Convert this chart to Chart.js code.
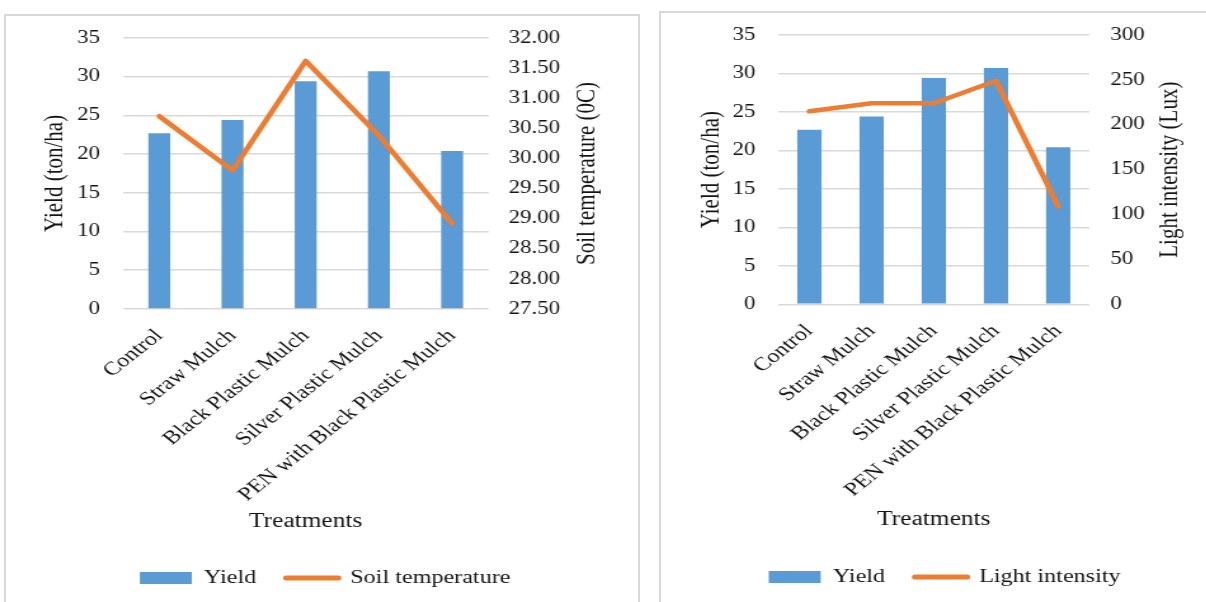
<!DOCTYPE html>
<html>
<head>
<meta charset="utf-8">
<script src="https://cdn.jsdelivr.net/npm/chart.js@4.4.1/dist/chart.umd.min.js"></script>
<style>
  html, body { margin: 0; padding: 0; background: #fff; overflow: hidden; }
  body { width: 1206px; height: 602px; position: relative; }
  canvas { position: absolute; top: 0; transform-origin: 0 0; }
  #soilChart { left: 0; }
  #lightChart { left: 650px; }
  .box { position: absolute; border: 2px solid #d9d9d9; pointer-events: none; }
  #box1 { left: 4px; top: 14px; width: 632px; height: 600px; }
  #box2 { left: 659px; top: 11px; width: 600px; height: 600px; }
</style>
</head>
<body>
<canvas id="soilChart" width="512" height="602"></canvas>
<canvas id="lightChart" width="464" height="602"></canvas>
<div class="box" id="box1"></div>
<div class="box" id="box2"></div>
<script>
const treatments = ["Control", "Straw Mulch", "Black Plastic Mulch", "Silver Plastic Mulch", "PEN with Black Plastic Mulch"];
const yieldValues = [22.7, 24.4, 29.4, 30.7, 20.4];
const soilTemp = [30.70, 29.80, 31.62, 30.38, 28.92];
const lightIntensity = [215, 224, 224, 249, 109];

const BLUE = "#5b9bd5";
const ORANGE = "#ed7d31";
const GRID = "#d9d9d9";
const TEXT = "#141414";
const FONT = "'Liberation Serif', 'Times New Roman', serif";

// the source picture is stretched sideways, so the canvases are too
const K = 1.27;
document.querySelectorAll("canvas").forEach((c) => {
  c.style.transform = `scaleX(${K})`;
});

Chart.defaults.font.family = FONT;
Chart.defaults.color = TEXT;

// vertical axis titles, both read bottom to top
const sideTitles = {
  id: "sideTitles",
  afterDraw(chart, args, opts) {
    const ctx = chart.ctx;
    const area = chart.chartArea;
    const cy = (area.top + area.bottom) / 2;
    ctx.save();
    ctx.font = "21px " + FONT;
    ctx.fillStyle = TEXT;
    ctx.textAlign = "center";
    ctx.textBaseline = "middle";
    opts.items.forEach((t) => {
      ctx.save();
      ctx.translate(t.x, cy);
      ctx.rotate(-Math.PI / 2);
      ctx.fillText(t.text, 0, 0);
      ctx.restore();
    });
    ctx.restore();
  },
};

function legendLabels(chart) {
  const items = Chart.defaults.plugins.legend.labels.generateLabels(chart);
  items.forEach((it) => {
    if (it.datasetIndex === 0) {
      it.pointStyle = "rect";
      it.lineWidth = 0;
    } else {
      it.pointStyle = "line";
      it.lineWidth = 5;
      it.lineCap = "round";
      it.strokeStyle = ORANGE;
    }
  });
  return items;
}

function makeChart(id, cfg) {
  return new Chart(document.getElementById(id), {
    type: "bar",
    data: {
      labels: treatments,
      datasets: [
        {
          label: "Yield",
          data: yieldValues,
          backgroundColor: BLUE,
          barPercentage: cfg.barPct,
          categoryPercentage: 1,
          yAxisID: "y",
          order: 1,
        },
        {
          type: "line",
          label: cfg.lineLabel,
          data: cfg.lineData,
          borderColor: ORANGE,
          backgroundColor: ORANGE,
          borderWidth: 4.5,
          borderCapStyle: "round",
          borderJoinStyle: "round",
          pointRadius: 0,
          tension: 0,
          yAxisID: "y2",
          order: 0,
        },
      ],
    },
    plugins: [sideTitles],
    options: {
      responsive: false,
      animation: false,
      devicePixelRatio: 1,
      layout: { padding: { top: cfg.top, bottom: cfg.bottom, left: 0, right: 0 } },
      plugins: {
        tooltip: { enabled: false },
        legend: {
          position: "bottom",
          labels: {
            usePointStyle: true,
            pointStyleWidth: 52 / K,
            boxHeight: 12,
            padding: 30 / K,
            font: { size: 19 },
            color: TEXT,
            generateLabels: legendLabels,
            sort: (a, b) => a.datasetIndex - b.datasetIndex,
          },
        },
        sideTitles: { items: cfg.titles },
      },
      scales: {
        x: {
          grid: { display: false },
          border: { display: false },
          ticks: {
            autoSkip: false,
            maxRotation: 45,
            minRotation: 45,
            padding: 8,
            font: { size: 19 },
          },
          title: {
            display: true,
            text: "Treatments",
            font: { size: 20 },
            padding: { top: 0, bottom: cfg.titlePad },
          },
          afterFit: (s) => { s.height = cfg.xHeight; },
        },
        y: {
          position: "left",
          min: 0,
          max: 35,
          ticks: { stepSize: 5, padding: cfg.leftPad, font: { size: 18 } },
          grid: { color: GRID, lineWidth: 1.5, drawTicks: false },
          border: { display: false },
          afterFit: (s) => { s.width = cfg.leftW; },
        },
        y2: {
          position: "right",
          min: cfg.y2.min,
          max: cfg.y2.max,
          ticks: {
            stepSize: cfg.y2.step,
            padding: cfg.rightPad,
            font: { size: 18 },
            callback: cfg.y2.fmt,
          },
          grid: { drawOnChartArea: false, drawTicks: false },
          border: { display: false },
          afterFit: (s) => { s.width = cfg.rightW; },
        },
      },
    },
  });
}

makeChart("soilChart", {
  lineLabel: "Soil temperature",
  lineData: soilTemp,
  barPct: 0.3,
  top: 38,
  bottom: 4.5,
  xHeight: 236,
  titlePad: 11,
  leftW: 122.7 / K,
  rightW: 512 - 488.7 / K,
  leftPad: 22.7 / K,
  rightPad: 20 / K,
  y2: { min: 27.5, max: 32, step: 0.5, fmt: (v) => Number(v).toFixed(2) },
  titles: [
    { text: "Yield (ton/ha)", x: 55 / K },
    { text: "Soil temperature (0C)", x: 587 / K },
  ],
});

makeChart("lightChart", {
  lineLabel: "Light intensity",
  lineData: lightIntensity,
  barPct: 0.39,
  top: 35,
  bottom: 5.5,
  xHeight: 239.6,
  titlePad: 12,
  leftW: 128.3 / K,
  rightW: 464 - 439.3 / K,
  leftPad: 23 / K,
  rightPad: 21 / K,
  y2: { min: 0, max: 300, step: 50, fmt: (v) => v },
  titles: [
    { text: "Yield (ton/ha)", x: 61 / K },
    { text: "Light intensity (Lux)", x: 520 / K },
  ],
});
</script>
</body>
</html>
